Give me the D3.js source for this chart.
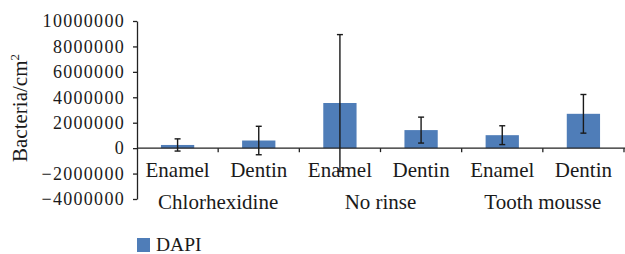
<!DOCTYPE html>
<html>
<head>
<meta charset="utf-8">
<script src="https://cdn.jsdelivr.net/npm/d3@7"></script>
<style>
  body { margin: 0; background: #fff; }
  text { font-family: "Liberation Serif", "DejaVu Serif", serif; fill: #1a1a1a; }
</style>
</head>
<body>
<div id="chart"></div>
<script>
// data
var groups = ["Chlorhexidine", "No rinse", "Tooth mousse"];
var surfaces = ["Enamel", "Dentin"];
var means = [250000, 600000, 3550000, 1420000, 1020000, 2700000];
var errors = [480000, 1120000, 5380000, 1020000, 740000, 1520000];
var yTicks = [-4000000, -2000000, 0, 2000000, 4000000, 6000000, 8000000, 10000000];
var seriesName = "DAPI";

var width = 625, height = 254;
var color = "#4f7db8";

var svg = d3.select("#chart").append("svg")
  .attr("width", width)
  .attr("height", height);

var bars = [];
groups.forEach(function(g, gi) {
  surfaces.forEach(function(s, si) {
    var i = gi * surfaces.length + si;
    bars.push({key: g + "|" + s, group: g, surface: s, mean: means[i], err: errors[i]});
  });
});

var x = d3.scaleBand()
  .domain(bars.map(function(d) { return d.key; }))
  .range([137, 624])
  .paddingInner(0.59)
  .paddingOuter(0.295);

var y = d3.scaleLinear()
  .domain([-4000000, 10000000])
  .range([199, 21]);

// y axis
var yAxis = svg.append("g")
  .attr("transform", "translate(137,0)")
  .call(d3.axisLeft(y).tickValues(yTicks).tickSize(4).tickSizeOuter(0).tickPadding(8)
    .tickFormat(function(d) { return d < 0 ? "\u2212" + Math.abs(d) : d; }));
yAxis.select(".domain").attr("stroke", "#222").attr("stroke-width", 1.3);
yAxis.selectAll(".tick line").attr("stroke", "#222").attr("stroke-width", 1.3);
yAxis.selectAll(".tick text")
  .style("font-size", "18px")
  .style("letter-spacing", "1.3px")
  .attr("fill", "#1a1a1a");

// bars
svg.selectAll(".bar")
  .data(bars)
  .enter().append("rect")
  .attr("class", "bar")
  .attr("x", function(d) { return x(d.key); })
  .attr("width", x.bandwidth())
  .attr("y", function(d) { return y(Math.max(0, d.mean)); })
  .attr("height", function(d) { return Math.abs(y(d.mean) - y(0)); })
  .attr("fill", color);

// zero line with category ticks
var step = x.step();
svg.append("line")
  .attr("x1", 137).attr("x2", 625)
  .attr("y1", y(0)).attr("y2", y(0))
  .attr("stroke", "#222").attr("stroke-width", 1.3);
svg.selectAll(".ctick")
  .data(bars)
  .enter().append("line")
  .attr("x1", function(d) { return x(d.key) + x.bandwidth() / 2 + step / 2; })
  .attr("x2", function(d) { return x(d.key) + x.bandwidth() / 2 + step / 2; })
  .attr("y1", y(0)).attr("y2", y(0) + 4)
  .attr("stroke", "#222").attr("stroke-width", 1.3);

// error bars
var eb = svg.selectAll(".err")
  .data(bars)
  .enter().append("g")
  .attr("stroke", "#1a1a1a")
  .attr("stroke-width", 1.4);
eb.append("line")
  .attr("x1", function(d) { return x(d.key) + x.bandwidth() / 2; })
  .attr("x2", function(d) { return x(d.key) + x.bandwidth() / 2; })
  .attr("y1", function(d) { return y(d.mean + d.err); })
  .attr("y2", function(d) { return y(d.mean - d.err); });
[1, -1].forEach(function(sign) {
  eb.append("line")
    .attr("x1", function(d) { return x(d.key) + x.bandwidth() / 2 - 3; })
    .attr("x2", function(d) { return x(d.key) + x.bandwidth() / 2 + 3; })
    .attr("y1", function(d) { return y(d.mean + sign * d.err); })
    .attr("y2", function(d) { return y(d.mean + sign * d.err); });
});

// surface labels
svg.selectAll(".slabel")
  .data(bars)
  .enter().append("text")
  .attr("x", function(d) { return x(d.key) + x.bandwidth() / 2; })
  .attr("y", 177)
  .attr("text-anchor", "middle")
  .style("font-size", "21px")
  .text(function(d) { return d.surface; });

// group labels
svg.selectAll(".glabel")
  .data(groups)
  .enter().append("text")
  .attr("x", function(g) {
    return (x(g + "|" + surfaces[0]) + x(g + "|" + surfaces[1]) + x.bandwidth()) / 2;
  })
  .attr("y", 209)
  .attr("text-anchor", "middle")
  .style("font-size", "21px")
  .text(function(g) { return g; });

// y label
var yl = svg.append("text")
  .attr("transform", "translate(27,108) rotate(-90)")
  .attr("text-anchor", "middle")
  .style("font-size", "21px");
yl.append("tspan").text("Bacteria/cm");
yl.append("tspan").attr("dy", -8).style("font-size", "13px").text("2");

// legend
svg.append("rect")
  .attr("x", 137).attr("y", 238)
  .attr("width", 13).attr("height", 14)
  .attr("fill", color);
svg.append("text")
  .attr("x", 156).attr("y", 251)
  .style("font-size", "19.5px")
  .text(seriesName);
</script>
</body>
</html>
